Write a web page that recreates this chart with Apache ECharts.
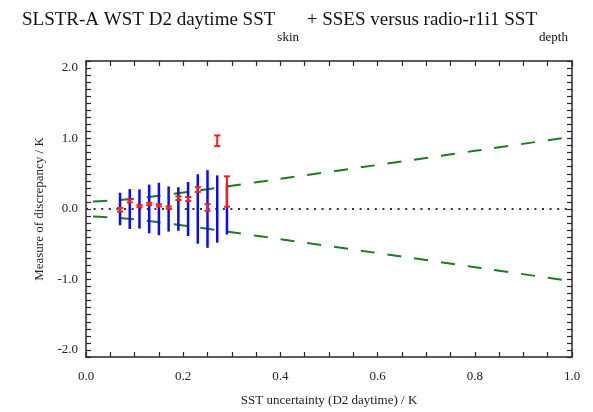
<!DOCTYPE html>
<html>
<head>
<meta charset="utf-8">
<script src="https://cdn.jsdelivr.net/npm/echarts@6/dist/echarts.min.js"></script>
<style>
html,body{margin:0;padding:0;background:#fff;}
#chart{width:593px;height:412px;}
</style>
</head>
<body>
<div id="chart"></div>
<script>
// ---- data ----
const binX      = [0.07, 0.09, 0.11, 0.13, 0.15, 0.17, 0.19, 0.21, 0.23, 0.25, 0.27, 0.29];
const spreadHalf= [0.231, 0.283, 0.278, 0.346, 0.372, 0.32, 0.309, 0.383, 0.493, 0.551, 0.477, 0.362];
const meanDisc  = [-0.01, 0.115, 0.042, 0.071, 0.052, 0.021, 0.153, 0.141, 0.276, 0.021, 0.968, 0.248];
const meanErr   = [0.026, 0.021, 0.016, 0.016, 0.016, 0.016, 0.026, 0.029, 0.034, 0.047, 0.076, 0.215];
const guideX    = [0.0, 0.05, 0.1, 0.15, 0.2, 0.3, 0.4, 0.6, 0.8, 1.0];
const guideUp   = [0.105, 0.118, 0.148, 0.188, 0.233, 0.33, 0.428, 0.625, 0.825, 1.025];
const guideLow  = [-0.105, -0.118, -0.148, -0.188, -0.233, -0.33, -0.428, -0.625, -0.825, -1.025];
const zeroX     = [0.0, 1.0];
const zeroY     = [0.0, 0.0];
const xTicks    = {min: 0, max: 1, step: 0.2, minorSplit: 4};
const yTicks    = {min: -2.1, max: 2.1, step: 0.1};

const FONT = '"Liberation Serif", "DejaVu Serif", serif';
const AXC = '#2e2230';

function xAxisDef(pos, showLabel, extra) {
  return Object.assign({
    type: 'value', position: pos, min: xTicks.min, max: xTicks.max, interval: xTicks.step,
    axisLine: {show: true, onZero: false, lineStyle: {color: AXC, width: 1.5}},
    axisTick: {show: true, inside: true, length: 5, lineStyle: {color: AXC, width: 1.2}},
    minorTick: {show: true, splitNumber: xTicks.minorSplit, length: 5, lineStyle: {color: AXC, width: 1.2}},
    splitLine: {show: false},
    axisLabel: {show: showLabel, margin: 13, fontFamily: FONT, fontSize: 13, color: '#222',
      formatter: v => v.toFixed(1)}
  }, extra || {});
}
function yAxisDef(pos, showLabel, extra) {
  return Object.assign({
    type: 'value', position: pos, min: yTicks.min, max: yTicks.max, interval: yTicks.step,
    axisLine: {show: true, onZero: false, lineStyle: {color: AXC, width: 1.5}},
    axisTick: {show: true, inside: true, length: 5, lineStyle: {color: AXC, width: 1.2}},
    splitLine: {show: false},
    axisLabel: {show: showLabel, margin: 8, fontFamily: FONT, fontSize: 13, color: '#222',
      formatter: v => (Math.abs(v - Math.round(v)) < 1e-6 ? Math.round(v).toFixed(1) : '')}
  }, extra || {});
}

const chart = echarts.init(document.getElementById('chart'), null, {renderer: 'canvas'});
chart.setOption({
  animation: false,
  backgroundColor: '#fff',
  title: {
    left: 17, top: 5,
    text: '{m|SLSTR-A WST D2 daytime SST}{s|skin}{m| + SSES versus radio-r1i1 SST}{s|depth}',
    textStyle: {
      fontWeight: 'normal',
      rich: {
        m: {fontFamily: FONT, fontSize: 19, fontWeight: 'normal', color: '#111', padding: [0, 0, 14, 0]},
        s: {fontFamily: FONT, fontSize: 13, fontWeight: 'normal', color: '#111', padding: [21, 3, 0, 2]}
      }
    }
  },
  grid: {left: 86, right: 21, top: 61, bottom: 49},
  xAxis: [
    xAxisDef('bottom', true, {
      name: 'SST uncertainty (D2 daytime) / K', nameLocation: 'middle', nameGap: 37,
      nameTextStyle: {fontFamily: FONT, fontSize: 13, color: '#222'}
    }),
    xAxisDef('top', false)
  ],
  yAxis: [
    yAxisDef('left', true, {
      name: 'Measure of discrepancy / K', nameLocation: 'middle', nameGap: 40,
      nameTextStyle: {fontFamily: FONT, fontSize: 13, color: '#222'}
    }),
    yAxisDef('right', false)
  ],
  series: [
    {
      type: 'line', xAxisIndex: 0, yAxisIndex: 0, symbol: 'none',
      data: zeroX.map((x, i) => [x, zeroY[i]]),
      lineStyle: {color: '#333', width: 2, type: [2, 5.6]}, z: 1
    },
    {
      type: 'line', xAxisIndex: 0, yAxisIndex: 0, symbol: 'none', smooth: 0.3,
      data: guideX.map((x, i) => [x, guideUp[i]]),
      lineStyle: {color: '#1f7a1f', width: 2, type: [14, 13], dashOffset: 20}, z: 2
    },
    {
      type: 'line', xAxisIndex: 0, yAxisIndex: 0, symbol: 'none', smooth: 0.3,
      data: guideX.map((x, i) => [x, guideLow[i]]),
      lineStyle: {color: '#1f7a1f', width: 2, type: [14, 13], dashOffset: 20}, z: 2
    },
    {
      type: 'custom', xAxisIndex: 0, yAxisIndex: 0, z: 3,
      data: binX.map((x, i) => [x, spreadHalf[i]]),
      renderItem: function (params, api) {
        const x = api.value(0), s = api.value(1);
        const a = api.coord([x, s]), b = api.coord([x, -s]);
        return {type: 'line', shape: {x1: a[0], y1: a[1], x2: b[0], y2: b[1]},
          style: {stroke: '#0a0aff', lineWidth: 2.5}};
      }
    },
    {
      type: 'custom', xAxisIndex: 0, yAxisIndex: 0, z: 4,
      data: binX.map((x, i) => [x, meanDisc[i], meanErr[i]]),
      renderItem: function (params, api) {
        const x = api.value(0), m = api.value(1), e = api.value(2);
        const a = api.coord([x, m + e]), b = api.coord([x, m - e]);
        const st = {stroke: '#ff1a1a', lineWidth: 2};
        return {type: 'group', children: [
          {type: 'line', shape: {x1: a[0], y1: a[1], x2: b[0], y2: b[1]}, style: st},
          {type: 'line', shape: {x1: a[0] - 3, y1: a[1], x2: a[0] + 3, y2: a[1]}, style: st},
          {type: 'line', shape: {x1: b[0] - 3, y1: b[1], x2: b[0] + 3, y2: b[1]}, style: st}
        ]};
      }
    }
  ]
});
</script>
</body>
</html>
